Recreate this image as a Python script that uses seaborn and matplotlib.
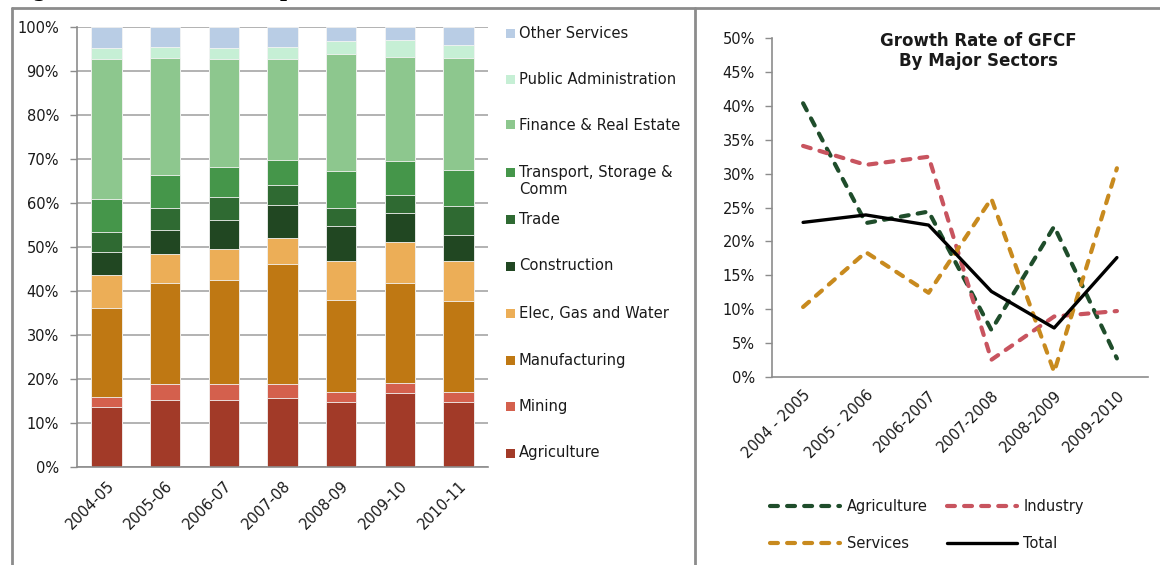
import numpy as np
import pandas as pd
import seaborn as sns
import matplotlib.pyplot as plt
from matplotlib.lines import Line2D
from matplotlib.patches import Rectangle

# shares of GFCF by sector (% of total)
years = ['2004-05', '2005-06', '2006-07', '2007-08', '2008-09', '2009-10', '2010-11']
agriculture = [13.6, 15.3, 15.3, 15.6, 14.7, 16.8, 14.7]
mining = [2.3, 3.5, 3.5, 3.2, 2.3, 2.3, 2.3]
manufacturing = [20.2, 23.0, 23.6, 27.2, 21.0, 22.7, 20.7]
elec_gas_water = [7.5, 6.5, 7.0, 6.0, 8.8, 9.3, 9.1]
construction = [5.3, 5.5, 6.7, 7.6, 8.0, 6.5, 5.9]
trade = [4.4, 5.0, 5.3, 4.4, 4.0, 4.1, 6.6]
transport = [7.5, 7.6, 6.7, 5.8, 8.5, 7.8, 8.2]
finance = [31.9, 26.5, 24.5, 22.8, 26.5, 23.7, 25.4]
public_admin = [2.5, 2.6, 2.6, 2.9, 2.9, 3.8, 2.9]
other_services = [4.8, 4.5, 4.8, 4.5, 3.3, 3.0, 4.2]

sector_names = ['Agriculture', 'Mining', 'Manufacturing', 'Elec, Gas and Water', 'Construction',
                'Trade', 'Transport, Storage &\nComm', 'Finance & Real Estate',
                'Public Administration', 'Other Services']
sector_colors = ['#a23a28', '#d4604d', '#bf7813', '#ecae57', '#214722',
                 '#2f6a32', '#45964a', '#8dc78e', '#c6efd5', '#b9cde5']

# growth rate of GFCF (%)
periods = ['2004 - 2005', '2005 - 2006', '2006-2007', '2007-2008', '2008-2009', '2009-2010']
agri_growth = [40.4, 22.7, 24.4, 6.9, 22.2, 2.7]
industry_growth = [34.1, 31.3, 32.5, 2.5, 8.9, 9.7]
services_growth = [10.3, 18.4, 12.4, 26.3, 0.7, 30.8]
total_growth = [22.8, 23.9, 22.4, 12.6, 7.2, 17.6]

sns.set_theme(style='white')
plt.rcParams['font.family'] = ['DejaVu Sans']

W, H = 1160, 565
fig = plt.figure(figsize=(W / 100, H / 100), dpi=100)

def fx(px):
    return px / W

def fy(py):
    return 1 - py / H

grey = '#8c8c8c'
txt = '#1a1a1a'

# ---- left: stacked bars (drawn as cumulative totals, top sector first)
ax1 = fig.add_axes([fx(77), fy(467), fx(488) - fx(77), fy(26.7) - fy(467)])
shares = pd.DataFrame(dict(zip(sector_names, [agriculture, mining, manufacturing, elec_gas_water,
                                              construction, trade, transport, finance,
                                              public_admin, other_services])), index=years)
cum = shares.cumsum(axis=1)
for name, col in reversed(list(zip(sector_names, sector_colors))):
    sns.barplot(x=years, y=cum[name].values, color=col, saturation=1, width=0.52,
                edgecolor='#f4f4f4', linewidth=0.6, ax=ax1, zorder=2)

ax1.set_xlim(-0.5, 6.5)
ax1.set_ylim(0, 100)
ax1.set_yticks(np.arange(0, 101, 10))
ax1.set_yticklabels([f'{v}%' for v in range(0, 101, 10)], fontsize=10.5, color=txt)
ax1.set_xticks(range(7))
ax1.set_xticklabels(years, rotation=45, ha='right', rotation_mode='anchor', fontsize=10.5, color=txt)
ax1.set_xticks(np.arange(-0.5, 7, 1), minor=True)
ax1.tick_params(axis='x', which='major', length=0, pad=8)
ax1.tick_params(axis='x', which='minor', length=5, color=grey, width=1)
ax1.tick_params(axis='y', length=5, color=grey, width=1, pad=8, left=True)
ax1.yaxis.grid(True, color='#a6a6a6', lw=1.2)
ax1.set_axisbelow(True)
ax1.set_xlabel('')
ax1.set_ylabel('')
for s in ['top', 'right']:
    ax1.spines[s].set_visible(False)
for s in ['left', 'bottom']:
    ax1.spines[s].set_color(grey)
    ax1.spines[s].set_linewidth(1.2)

# legend for the bars, one entry per row like the source
legend_y = [33, 79, 125, 173, 219, 266, 313, 360, 406, 453]
for (name, col), yy in zip(reversed(list(zip(sector_names, sector_colors))), legend_y):
    fig.patches.append(Rectangle((fx(506), fy(yy + 4.5)), fx(9), 9 / H, transform=fig.transFigure,
                                 facecolor=col, edgecolor='none'))
    fig.text(fx(519), fy(yy - 7.5), name, fontsize=10.6, color=txt, va='top', ha='left',
             linespacing=1.15)

# ---- right: growth lines
ax2 = fig.add_axes([fx(771.7), fy(376.7), fx(1148.3) - fx(771.7), fy(38.3) - fy(376.7)])
dash = (0, (1.9, 2.2))
sns.lineplot(x=periods, y=agri_growth, color='#1f4d2b', lw=3, linestyle=dash,
             dash_capstyle='round', sort=False, ax=ax2, label='Agriculture')
sns.lineplot(x=periods, y=industry_growth, color='#c8545f', lw=3, linestyle=dash,
             dash_capstyle='round', sort=False, ax=ax2, label='Industry')
sns.lineplot(x=periods, y=services_growth, color='#c88a1e', lw=3, linestyle=dash,
             dash_capstyle='round', sort=False, ax=ax2, label='Services')
sns.lineplot(x=periods, y=total_growth, color='black', lw=2.4, sort=False, ax=ax2, label='Total')

handles, labels = ax2.get_legend_handles_labels()
ax2.get_legend().remove()
order = [0, 2, 1, 3]
fig.legend([handles[i] for i in order], [labels[i] for i in order], ncol=2, loc='center',
           bbox_to_anchor=(fx(927), fy(525)), frameon=False, fontsize=10.5, handlelength=4.8,
           columnspacing=1.3, handletextpad=0.45, labelspacing=1.5, labelcolor=txt)

ax2.set_xlim(-0.5, 5.5)
ax2.set_ylim(0, 50)
ax2.set_yticks(np.arange(0, 51, 5))
ax2.set_yticklabels([f'{v}%' for v in range(0, 51, 5)], fontsize=10.5, color=txt)
ax2.set_xticks(range(6))
ax2.set_xticklabels(periods, rotation=45, ha='right', rotation_mode='anchor', fontsize=10.5, color=txt)
ax2.set_xticks(np.arange(-0.5, 6, 1), minor=True)
ax2.tick_params(axis='x', which='major', length=0, pad=8)
ax2.tick_params(axis='x', which='minor', length=5, color=grey, width=1)
ax2.tick_params(axis='y', length=5, color=grey, width=1, pad=7, left=True)
ax2.set_xlabel('')
ax2.set_ylabel('')
for s in ['top', 'right']:
    ax2.spines[s].set_visible(False)
for s in ['left', 'bottom']:
    ax2.spines[s].set_color(grey)
    ax2.spines[s].set_linewidth(1.2)

fig.text(fx(978), fy(51), 'Growth Rate of GFCF\nBy Major Sectors', fontsize=12, fontweight='bold',
         ha='center', va='center', color=txt, linespacing=1.15)

# panel frames and the caption above them, cut off by the page edge as in the source
fig.add_artist(Line2D([fx(12), 1], [fy(8), fy(8)], color=grey, lw=2))
fig.add_artist(Line2D([fx(12), fx(12)], [0, fy(8)], color=grey, lw=2))
fig.add_artist(Line2D([fx(695), fx(695)], [0, fy(8)], color=grey, lw=2))
fig.text(fx(12), fy(-3), 'Figure 3: Gross Fixed Capital Formation, 2004-11 (% of State Total GFCF)',
         fontsize=14, fontweight='bold', family='DejaVu Serif', ha='left', va='baseline', color='black')

fig.savefig('out.png', dpi=100)
